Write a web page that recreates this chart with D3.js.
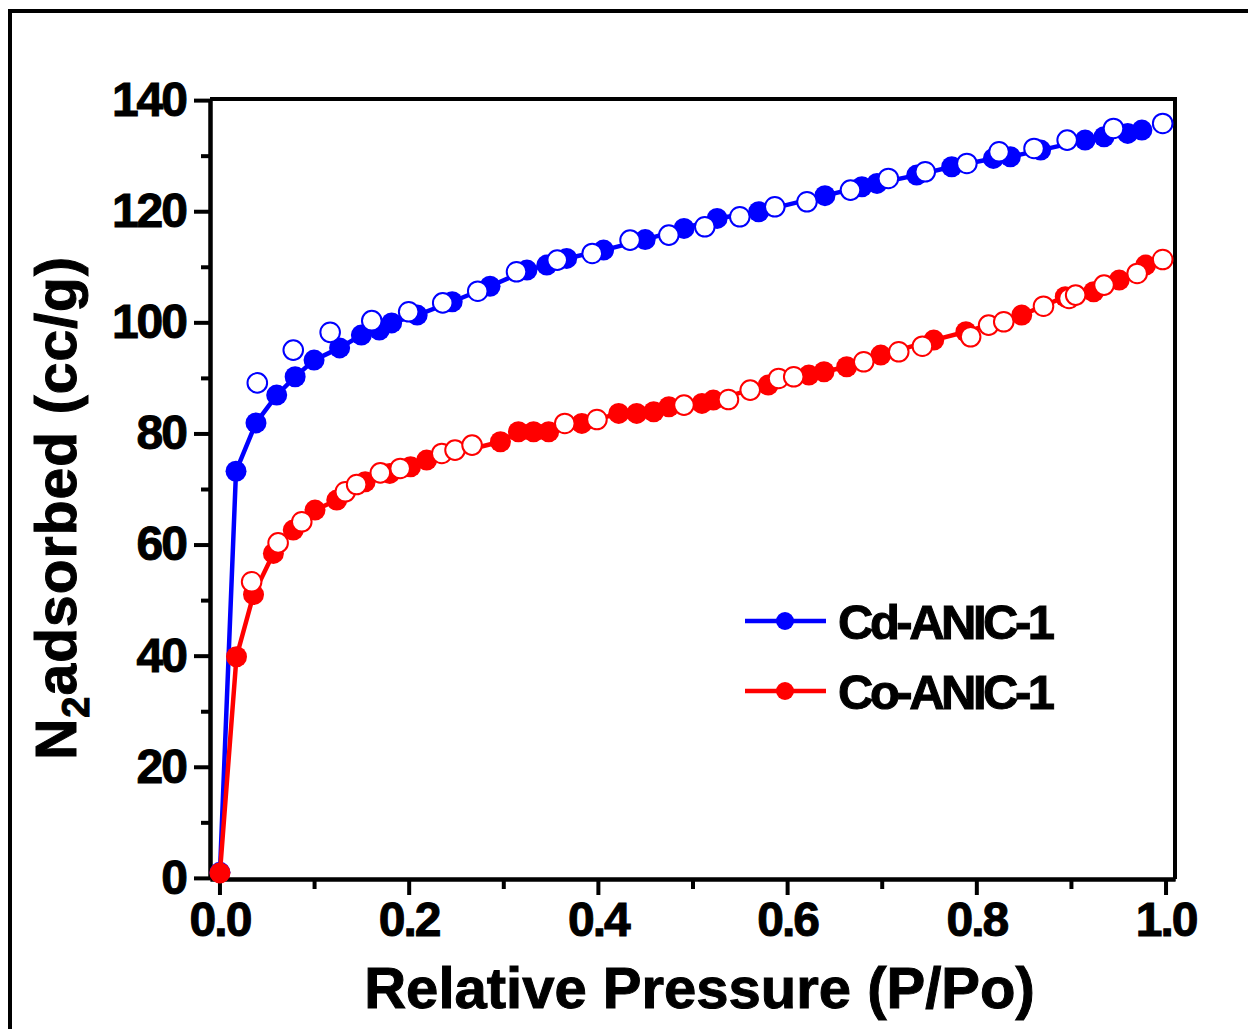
<!DOCTYPE html>
<html>
<head>
<meta charset="utf-8">
<script src="https://cdn.jsdelivr.net/npm/d3@7"></script>
<style>
  body { margin: 0; background: #fff; }
  svg text { font-family: "Liberation Sans", Arial, sans-serif; font-weight: bold; fill: #000;
             stroke: #000; stroke-width: 1px; }
</style>
</head>
<body>
<script>
// Cd-ANIC-1 isotherm: adsorption (filled) and desorption (open), [P/Po, cc/g]
const cdAdsorption = [
  [0.0005, 1], [0.0175, 73.2], [0.0386, 81.9], [0.0605, 86.9], [0.080, 90.2],
  [0.100, 93.2], [0.127, 95.4], [0.150, 97.7], [0.169, 98.6], [0.182, 99.9],
  [0.209, 101.3], [0.246, 103.7], [0.286, 106.5], [0.325, 109.4], [0.346, 110.3],
  [0.367, 111.5], [0.406, 113.0], [0.450, 114.9], [0.491, 116.9], [0.526, 118.7],
  [0.570, 119.9], [0.640, 122.8], [0.679, 124.4], [0.695, 125.0], [0.737, 126.5],
  [0.774, 128.0], [0.818, 129.5], [0.836, 129.8], [0.868, 131.0], [0.915, 132.8],
  [0.935, 133.4], [0.960, 134.0], [0.975, 134.6]
];
const cdDesorption = [
  [0.040, 89.1], [0.078, 95.0], [0.117, 98.2], [0.161, 100.3], [0.200, 101.9],
  [0.236, 103.5], [0.273, 105.6], [0.314, 109.1], [0.357, 111.2], [0.394, 112.4],
  [0.434, 114.8], [0.475, 115.7], [0.513, 117.2], [0.550, 119.0], [0.587, 120.8],
  [0.621, 121.7], [0.667, 123.8], [0.707, 125.9], [0.746, 127.1], [0.790, 128.6],
  [0.824, 130.7], [0.861, 131.3], [0.896, 132.8], [0.945, 134.9], [0.997, 135.8]
];

// Co-ANIC-1 isotherm
const coAdsorption = [
  [0.0005, 0.9], [0.018, 39.8], [0.036, 51.0], [0.057, 58.4], [0.078, 62.6],
  [0.101, 66.2], [0.124, 68.0], [0.154, 71.3], [0.180, 72.8], [0.202, 74.0],
  [0.219, 75.2], [0.297, 78.5], [0.316, 80.3], [0.332, 80.3], [0.348, 80.3],
  [0.383, 81.8], [0.422, 83.6], [0.441, 83.6], [0.459, 83.9], [0.475, 84.8],
  [0.510, 85.4], [0.522, 86.0], [0.580, 88.7], [0.623, 90.5], [0.639, 91.1],
  [0.663, 92.0], [0.699, 94.1], [0.755, 96.8], [0.789, 98.3], [0.848, 101.3],
  [0.894, 104.6], [0.924, 105.5], [0.951, 107.6], [0.979, 110.3]
];
const coDesorption = [
  [0.034, 53.3], [0.062, 60.3], [0.087, 64.1], [0.133, 69.5], [0.145, 70.8],
  [0.170, 72.9], [0.191, 73.7], [0.235, 76.4], [0.249, 77.0], [0.267, 77.9],
  [0.365, 81.8], [0.399, 82.5], [0.491, 85.1], [0.538, 86.1], [0.561, 87.8],
  [0.591, 89.9], [0.607, 90.2], [0.681, 92.9], [0.718, 94.7], [0.743, 95.7],
  [0.794, 97.4], [0.813, 99.5], [0.829, 100.1], [0.871, 102.9], [0.898, 104.3],
  [0.905, 104.9], [0.935, 106.7], [0.970, 108.8], [0.997, 111.3]
];

const xTicks = [0, 0.2, 0.4, 0.6, 0.8, 1.0];
const xMinorTicks = [0.1, 0.3, 0.5, 0.7, 0.9];
const yTicks = [0, 20, 40, 60, 80, 100, 120, 140];
const yMinorTicks = [10, 30, 50, 70, 90, 110, 130];
const seriesNames = ['Cd-ANIC-1', 'Co-ANIC-1'];
const seriesColors = ['#0000ff', '#ff0000'];

const width = 1248, height = 1029;
const box = { left: 210, right: 1175, top: 99, bottom: 879 };

const svg = d3.select('body').append('svg')
  .attr('width', width)
  .attr('height', height);

// outer frame of the figure panel (runs off the right and bottom edges)
svg.append('rect')
  .attr('x', 10).attr('y', 11)
  .attr('width', 1400).attr('height', 1200)
  .attr('fill', 'none').attr('stroke', '#000').attr('stroke-width', 4);

const x = d3.scaleLinear().domain([-0.01, 1.01]).range([box.left, box.right]);
const y = d3.scaleLinear().domain([-0.2, 140.2]).range([box.bottom, box.top]);

/**
 * Draw the axes, ticks and the closing box
 */
function drawAxes() {
  const styleAxis = g => {
    g.selectAll('.domain').attr('stroke', '#000').attr('stroke-width', 4);
    g.selectAll('.tick line').attr('stroke', '#000').attr('stroke-width', 4);
  };

  // minor ticks first
  svg.append('g')
    .attr('transform', `translate(0,${box.bottom})`)
    .call(d3.axisBottom(x).tickValues(xMinorTicks).tickSize(10).tickSizeOuter(0).tickFormat(''))
    .call(styleAxis);
  svg.append('g')
    .attr('transform', `translate(${box.left},0)`)
    .call(d3.axisLeft(y).tickValues(yMinorTicks).tickSize(9).tickSizeOuter(0).tickFormat(''))
    .call(styleAxis);

  const gx = svg.append('g')
    .attr('transform', `translate(0,${box.bottom})`)
    .call(d3.axisBottom(x).tickValues(xTicks).tickSize(16).tickSizeOuter(0)
      .tickPadding(7).tickFormat(d3.format('.1f')))
    .call(styleAxis);
  gx.selectAll('text')
    .style('font-size', '48px')
    .style('letter-spacing', '-2px');

  const gy = svg.append('g')
    .attr('transform', `translate(${box.left},0)`)
    .call(d3.axisLeft(y).tickValues(yTicks).tickSize(16).tickSizeOuter(0)
      .tickPadding(8).tickFormat(d3.format('d')))
    .call(styleAxis);
  gy.selectAll('text')
    .style('font-size', '48px')
    .style('letter-spacing', '-2px');

  // top and right sides of the box
  svg.append('path')
    .attr('d', `M${box.left},${box.top}H${box.right}V${box.bottom}`)
    .attr('fill', 'none').attr('stroke', '#000').attr('stroke-width', 4);

  // axis titles
  svg.append('text')
    .attr('x', (box.left + box.right) / 2 + 7).attr('y', 1008)
    .attr('text-anchor', 'middle')
    .style('font-size', '58px')
    .style('letter-spacing', '0px')
    .text('Relative Pressure (P/Po)');

  const yTitle = svg.append('text')
    .attr('transform', 'translate(76,508) rotate(-90)')
    .attr('text-anchor', 'middle')
    .style('font-size', '57px')
    .style('letter-spacing', '1px');
  yTitle.append('tspan').text('N');
  yTitle.append('tspan').attr('dy', 13).style('font-size', '38px').text('2');
  yTitle.append('tspan').attr('dy', -13).text('adsorbed (cc/g)');
}

/**
 * Draw one isotherm branch with circle markers
 * @param {Array} data - [P/Po, volume] pairs
 * @param {string} color - series colour
 * @param {boolean} open - open (desorption) or filled (adsorption) markers
 */
function drawBranch(data, color, open) {
  // only the adsorption branch is joined by a line
  if (!open) {
    const line = d3.line().x(d => x(d[0])).y(d => y(d[1]));
    svg.append('path')
      .datum(data)
      .attr('d', line)
      .attr('fill', 'none')
      .attr('stroke', color)
      .attr('stroke-width', 4.5);
  }

  svg.append('g').selectAll('circle')
    .data(data)
    .join('circle')
    .attr('cx', d => x(d[0]))
    .attr('cy', d => y(d[1]))
    .attr('r', open ? 9.8 : 10.5)
    .attr('fill', open ? '#fff' : color)
    .attr('stroke', color)
    .attr('stroke-width', open ? 2 : 0);
}

/**
 * Draw the legend entries
 */
function drawLegend() {
  const rows = [621, 691];
  seriesNames.forEach((name, i) => {
    const g = svg.append('g').attr('transform', `translate(0,${rows[i]})`);
    g.append('line')
      .attr('x1', 745).attr('x2', 826).attr('y1', 0).attr('y2', 0)
      .attr('stroke', seriesColors[i]).attr('stroke-width', 4.5);
    g.append('circle')
      .attr('cx', 785).attr('cy', 0).attr('r', 9)
      .attr('fill', seriesColors[i]);
    g.append('text')
      .attr('x', 838).attr('y', 18)
      .style('font-size', '49px')
      .style('letter-spacing', '-3.5px')
      .text(name);
  });
}

drawAxes();
drawBranch(cdAdsorption, seriesColors[0], false);
drawBranch(cdDesorption, seriesColors[0], true);
drawBranch(coAdsorption, seriesColors[1], false);
drawBranch(coDesorption, seriesColors[1], true);
drawLegend();
</script>
</body>
</html>
